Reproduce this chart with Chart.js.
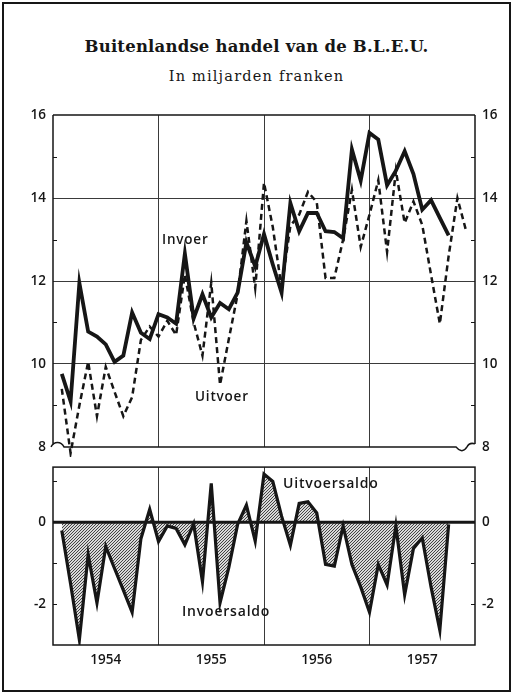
<!DOCTYPE html>
<html>
<head>
<meta charset="utf-8">
<script src="https://cdn.jsdelivr.net/npm/chart.js@4.4.0/dist/chart.umd.min.js"></script>
<style>
html, body { margin: 0; padding: 0; background: #fff; }
#page { position: relative; width: 513px; height: 694px; overflow: hidden; }
#frame { position: absolute; left: 2px; top: 2px; width: 505px; height: 686px; border: 2px solid #161616; }
.t { position: absolute; white-space: nowrap; color: #161616; }
#title { left: 0; width: 513px; text-align: center; top: 37px; font: bold 16.5px "DejaVu Serif", serif; letter-spacing: 0.2px; }
#sub { left: 0; width: 513px; text-align: center; top: 68px; font: 14.5px "DejaVu Serif", serif; letter-spacing: 1.2px; }
.lbl { font: 600 13.5px "Open Sans", sans-serif; letter-spacing: 0.8px; }
canvas { position: absolute; left: 0; }
</style>
</head>
<body>
<div id="page">
  <div id="frame"></div>
  <div class="t" id="title">Buitenlandse handel van de B.L.E.U.</div>
  <div class="t" id="sub">In miljarden franken</div>
  <canvas id="topChart" width="513" height="362" style="top:100px"></canvas>
  <canvas id="botChart" width="513" height="242" style="top:452px"></canvas>
  <div class="t lbl" style="left:162px;top:230px">Invoer</div>
  <div class="t lbl" style="left:195px;top:387px">Uitvoer</div>
  <div class="t lbl" style="left:283px;top:473px;font-size:14px">Uitvoersaldo</div>
  <div class="t lbl" style="left:182px;top:601px;font-size:14px">Invoersaldo</div>
</div>
<script>
// monthly values, Jan 1954 onwards (billion francs)
const years = ['1954', '1955', '1956', '1957'];
const invoer = [9.76, 9.1, 11.95, 10.78, 10.66, 10.47, 10.05, 10.2, 11.24, 10.75, 10.6, 11.2,
  11.12, 10.97, 12.66, 11.1, 11.68, 11.12, 11.47, 11.32, 11.72, 12.93, 12.35, 13.13,
  12.4, 11.72, 13.88, 13.2, 13.64, 13.64, 13.2, 13.18, 13.03, 15.17, 14.42, 15.57,
  15.41, 14.31, 14.66, 15.13, 14.58, 13.72, 13.95, 13.52, 13.1];
const uitvoer = [9.4, 7.85, 9.0, 10.05, 8.74, 9.93, 9.33, 8.74, 9.2, 10.58, 10.9, 10.66,
  11.04, 10.7, 12.15, 11.0, 10.2, 11.96, 9.5, 10.6, 11.68, 13.45, 11.83, 14.37,
  13.3, 11.83, 13.33, 13.6, 14.15, 13.9, 12.07, 12.07, 13.0, 14.2, 12.82, 13.6,
  14.43, 12.7, 14.66, 13.4, 13.92, 13.35, 12.15, 10.97, 12.6, 14.0, 13.2];
const saldo = [-0.2, -1.5, -2.87, -0.79, -1.97, -0.59, -1.13, -1.66, -2.2, -0.4, 0.32, -0.47,
  -0.09, -0.15, -0.55, -0.04, -1.45, 0.95, -1.97, -1.1, -0.05, 0.42, -0.46, 1.18,
  1.0, 0.15, -0.56, 0.46, 0.5, 0.23, -1.03, -1.07, -0.09, -1.03, -1.58, -2.2,
  -1.03, -1.53, -0.09, -1.77, -0.64, -0.38, -1.58, -2.64, -0.05];
const topLabels = [8, 10, 12, 14, 16];
const topMinor = [9, 11, 13, 15];
const botLabels = [-2, 0];
const botMinor = [1, -1, -2];

const INK = '#161616';
const FONT = { family: '"Open Sans", sans-serif', size: 13.5, weight: 600 };
const pts = arr => arr.map((v, i) => ({ x: i + 1, y: v }));
const monthTicks = s => { s.ticks = [0, 6, 12, 18, 24, 30, 36, 42, 48].map(v => ({ value: v })); };
const yearGrid = c => [12, 24, 36].includes(c.tick.value) ? '#3a3a3a' : 'rgba(0,0,0,0)';

// frame, inner tick marks, zero line and the axis break
const panel = {
  id: 'panel',
  afterDatasetsDraw(chart, args, o) {
    const { ctx, chartArea: a } = chart;
    const y = chart.scales.y;
    ctx.save();
    ctx.strokeStyle = INK;
    ctx.lineWidth = 1;
    o.minor.forEach(v => {
      const py = Math.round(y.getPixelForValue(v)) + 0.5;
      ctx.beginPath();
      ctx.moveTo(a.left, py); ctx.lineTo(a.left + 4, py);
      ctx.moveTo(a.right, py); ctx.lineTo(a.right - 4, py);
      ctx.stroke();
    });
    ctx.lineWidth = 1.5;
    if (o.box) {
      ctx.strokeRect(a.left, a.top, a.right - a.left, a.bottom - a.top);
    } else {
      const b = a.bottom;
      ctx.beginPath();
      ctx.moveTo(a.left, a.top); ctx.lineTo(a.right, a.top);
      ctx.moveTo(a.left, a.top); ctx.lineTo(a.left, b - 2);
      ctx.moveTo(a.right, a.top); ctx.lineTo(a.right, b - 3);
      ctx.moveTo(a.left - 2, b);
      ctx.bezierCurveTo(a.left + 1, b - 6, a.left + 8, b - 6, a.left + 11, b);
      ctx.lineTo(a.right - 19, b);
      ctx.bezierCurveTo(a.right - 15, b + 5, a.right - 11, b + 5, a.right - 8, b);
      ctx.bezierCurveTo(a.right - 6, b - 4, a.right - 3, b - 4, a.right, b - 3);
      ctx.stroke();
    }
    if (o.zero) {
      const pz = y.getPixelForValue(0);
      ctx.lineWidth = 3;
      ctx.beginPath(); ctx.moveTo(a.left, pz); ctx.lineTo(a.right, pz); ctx.stroke();
    }
    ctx.restore();
  }
};

function hatch() {
  const c = document.createElement('canvas');
  c.width = c.height = 3;
  const g = c.getContext('2d');
  g.fillStyle = '#d8d8d8';
  g.fillRect(0, 0, 3, 3);
  g.strokeStyle = '#444';
  g.lineWidth = 1;
  g.beginPath();
  g.moveTo(0, 3); g.lineTo(3, 0);
  g.moveTo(-1, 1); g.lineTo(1, -1);
  g.moveTo(2, 4); g.lineTo(4, 2);
  g.stroke();
  return g.createPattern(c, 'repeat');
}

const yLabel = v => topLabels.includes(v) ? String(v) : '';

new Chart(document.getElementById('topChart'), {
  type: 'line',
  data: {
    datasets: [
      { data: pts(invoer), borderColor: INK, borderWidth: 3.8, pointRadius: 0, tension: 0 },
      { data: pts(uitvoer), borderColor: INK, borderWidth: 2.5, borderDash: [6, 4], pointRadius: 0, tension: 0,
        clip: { left: 2, top: 2, right: 2, bottom: 10 } }
    ]
  },
  options: {
    responsive: false, animation: false, devicePixelRatio: 1,
    layout: { padding: { top: 10, bottom: 13, left: 0, right: 0 } },
    plugins: { legend: { display: false }, tooltip: { enabled: false }, panel: { minor: topMinor, box: false, zero: false } },
    scales: {
      x: { type: 'linear', min: 0, max: 48, afterBuildTicks: monthTicks, afterFit: s => { s.height = 0; },
        ticks: { display: false }, border: { display: false },
        grid: { color: yearGrid, lineWidth: 1, drawTicks: false } },
      y: { position: 'left', min: 8, max: 16, afterBuildTicks: s => { s.ticks = topLabels.map(v => ({ value: v })); },
        afterFit: s => { s.width = 53; }, border: { display: false },
        grid: { drawTicks: false, color: c => [10, 12, 14].includes(c.tick.value) ? '#3a3a3a' : 'rgba(0,0,0,0)' },
        ticks: { color: INK, font: FONT, padding: 7, callback: yLabel } },
      y2: { position: 'right', min: 8, max: 16, afterBuildTicks: s => { s.ticks = topLabels.map(v => ({ value: v })); },
        afterFit: s => { s.width = 38; }, border: { display: false }, grid: { display: false, drawTicks: false },
        ticks: { color: INK, font: FONT, padding: 7, callback: yLabel } }
    }
  },
  plugins: [panel]
});

new Chart(document.getElementById('botChart'), {
  type: 'line',
  data: {
    datasets: [
      { data: pts(saldo), borderColor: INK, borderWidth: 3.2, pointRadius: 0, tension: 0,
        fill: 'origin', backgroundColor: hatch() }
    ]
  },
  options: {
    responsive: false, animation: false, devicePixelRatio: 1,
    layout: { padding: { top: 9, bottom: 0, left: 0, right: 0 } },
    plugins: { legend: { display: false }, tooltip: { enabled: false }, panel: { minor: botMinor, box: true, zero: true } },
    scales: {
      x: { type: 'linear', min: 0, max: 48, afterBuildTicks: monthTicks, afterFit: s => { s.height = 49; },
        border: { display: false }, grid: { color: yearGrid, lineWidth: 1, drawTicks: false },
        ticks: { color: INK, font: FONT, padding: 7, maxRotation: 0, autoSkip: false,
          callback: v => v % 12 === 6 ? years[(v - 6) / 12] : '' } },
      y: { position: 'left', min: -3, max: 1.35, afterBuildTicks: s => { s.ticks = botLabels.map(v => ({ value: v })); },
        afterFit: s => { s.width = 53; }, border: { display: false }, grid: { display: false, drawTicks: false },
        ticks: { color: INK, font: FONT, padding: 7 } },
      y2: { position: 'right', min: -3, max: 1.35, afterBuildTicks: s => { s.ticks = botLabels.map(v => ({ value: v })); },
        afterFit: s => { s.width = 38; }, border: { display: false }, grid: { display: false, drawTicks: false },
        ticks: { color: INK, font: FONT, padding: 7 } }
    }
  },
  plugins: [panel]
});
</script>
</body>
</html>
